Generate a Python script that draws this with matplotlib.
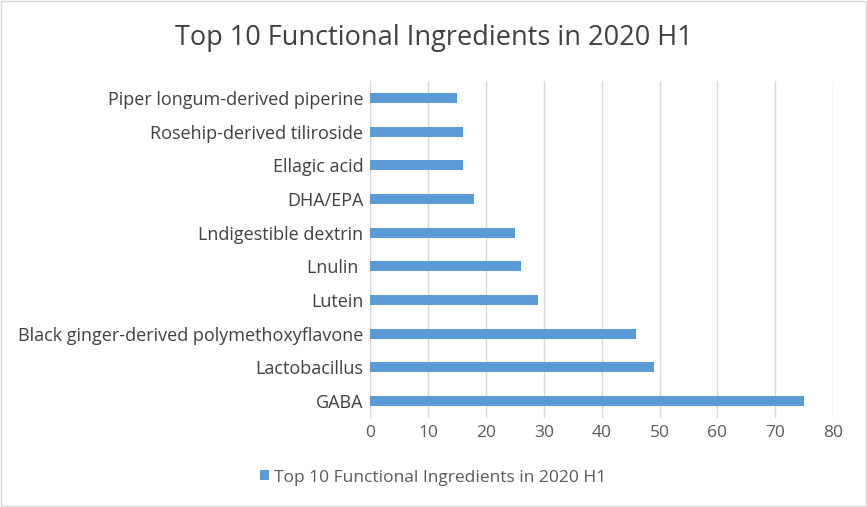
import matplotlib
matplotlib.use("Agg")
import matplotlib.pyplot as plt

categories = ["GABA", "Lactobacillus", "Black ginger-derived polymethoxyflavone", "Lutein",
              "Lnulin ", "Lndigestible dextrin", "DHA/EPA", "Ellagic acid",
              "Rosehip-derived tiliroside", "Piper longum-derived piperine"]
values = [75, 49, 46, 29, 26, 25, 18, 16, 16, 15]
xticks = [0, 10, 20, 30, 40, 50, 60, 70, 80]
title = "Top 10 Functional Ingredients in 2020 H1"

plt.rcParams['font.family'] = ['Open Sans', 'DejaVu Sans']
fig = plt.figure(figsize=(8.67, 5.07), dpi=100)
ax = fig.add_axes([0.427, 0.176, 0.534, 0.664])
color = "#5B9BD5"
ax.barh(range(len(categories)), values, height=0.3, color=color, zorder=3,
        label=title)
ax.set_yticks(range(len(categories)))
ax.set_yticklabels(categories, fontsize=13, color="#404040")
ax.set_xticks(xticks)
ax.set_xticklabels([str(t) for t in xticks], fontsize=12.5, color="#595959")
ax.set_xlim(0, 80)
ax.set_ylim(-0.5, len(categories) - 0.5)
ax.grid(axis="x", color="#D9D9D9", linewidth=1, zorder=0)
for s in ["top", "right", "bottom"]:
    ax.spines[s].set_visible(False)
ax.spines["left"].set_color("#D9D9D9")
ax.tick_params(length=0, pad=5)
fig.text(0.5, 0.925, title, ha="center", va="center", fontsize=19.5, color="#404040")
fig.legend(loc="center", bbox_to_anchor=(0.5, 0.058), frameon=False, fontsize=12.5,
           handlelength=0.5, handleheight=0.5, labelcolor="#595959", handletextpad=0.3)
fig.patches.append(plt.Rectangle((0.001, 0.001), 0.998, 0.997, transform=fig.transFigure,
                                 fill=False, edgecolor="#D9D9D9", linewidth=1))
fig.savefig("out.png", dpi=100)
